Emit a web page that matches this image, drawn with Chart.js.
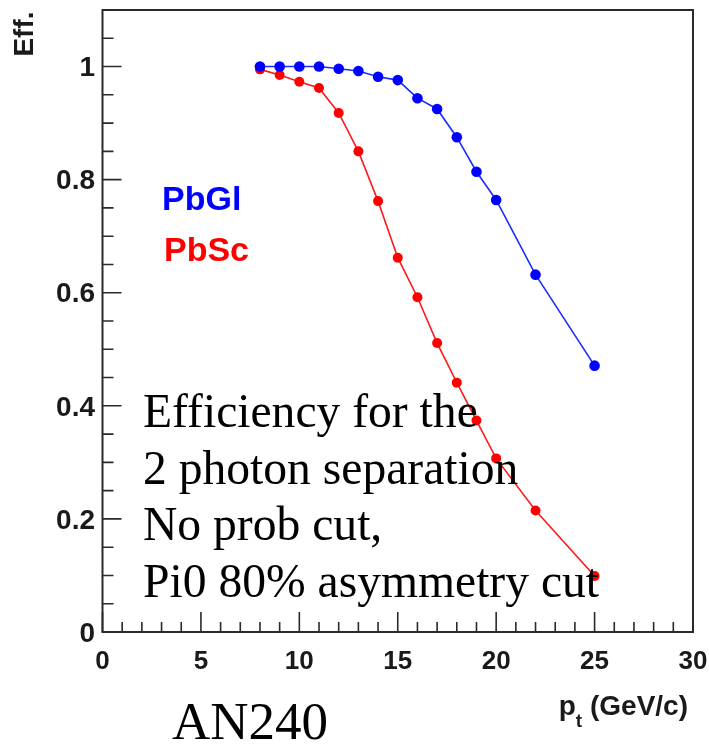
<!DOCTYPE html>
<html>
<head>
<meta charset="utf-8">
<script src="https://cdn.jsdelivr.net/npm/chart.js@4/dist/chart.umd.min.js"></script>
<style>
  html, body { margin: 0; padding: 0; background: #ffffff; }
  #wrap { width: 709px; height: 744px; }
</style>
</head>
<body>
<div id="wrap"><canvas id="c" width="709" height="744"></canvas></div>
<script>
// transverse momentum bins (GeV/c)
const pt = [8, 9, 10, 11, 12, 13, 14, 15, 16, 17, 18, 19, 20, 22, 25];
// two-photon separation efficiency, lead-glass calorimeter
const effPbGl = [1.0, 1.0, 1.0, 1.0, 0.996, 0.992, 0.982, 0.976, 0.944, 0.925, 0.875, 0.814, 0.764, 0.632, 0.471];
// two-photon separation efficiency, lead-scintillator calorimeter
const effPbSc = [0.995, 0.985, 0.973, 0.962, 0.918, 0.850, 0.762, 0.662, 0.592, 0.511, 0.441, 0.374, 0.307, 0.215, 0.099];

const xTickLabels = ['0', '5', '10', '15', '20', '25', '30'];
const yTickLabels = ['0', '0.2', '0.4', '0.6', '0.8', '1'];
const noteLines = ['Efficiency for the', '2 photon separation', 'No prob cut,', 'Pi0 80% asymmetry cut'];

const toPoints = (xs, ys) => xs.map((x, i) => ({ x: x, y: ys[i] }));

// frame, inward ticks, tick labels and annotations
const framePlugin = {
  id: 'frame',
  afterDraw(chart) {
    const ctx = chart.ctx;
    const a = chart.chartArea;
    const xs = chart.scales.x, ys = chart.scales.y;
    ctx.save();
    ctx.strokeStyle = '#2a2a2a';
    ctx.lineWidth = 2;
    ctx.strokeRect(a.left, a.top, a.right - a.left, a.bottom - a.top);

    ctx.lineWidth = 1.6;
    ctx.beginPath();
    for (let v = 0; v <= 30; v += 1) {
      const px = xs.getPixelForValue(v);
      const len = (v % 5 === 0) ? 20 : 10;
      ctx.moveTo(px, a.bottom);
      ctx.lineTo(px, a.bottom - len);
    }
    for (let k = 0; k <= 22; k++) {
      const v = k * 0.05;
      const py = ys.getPixelForValue(v);
      const len = (k % 4 === 0) ? 19 : 11;
      ctx.moveTo(a.left, py);
      ctx.lineTo(a.left + len, py);
    }
    ctx.stroke();

    // tick labels
    ctx.fillStyle = '#1a1a1a';
    ctx.font = 'bold 26px "Liberation Sans", Arial, sans-serif';
    ctx.textAlign = 'center';
    ctx.textBaseline = 'alphabetic';
    xTickLabels.forEach(t => {
      ctx.fillText(t, xs.getPixelForValue(parseFloat(t)), 669);
    });
    ctx.font = 'bold 28px "Liberation Sans", Arial, sans-serif';
    ctx.textAlign = 'right';
    ctx.textBaseline = 'middle';
    yTickLabels.forEach(t => {
      ctx.fillText(t, 95, ys.getPixelForValue(parseFloat(t)) + 2);
    });

    // axis titles
    ctx.save();
    ctx.translate(25, 34);
    ctx.rotate(-Math.PI / 2);
    ctx.textAlign = 'center';
    ctx.textBaseline = 'middle';
    ctx.font = 'bold 28px "Liberation Sans", Arial, sans-serif';
    ctx.fillText('Eff.', 0, 0);
    ctx.restore();

    ctx.textAlign = 'left';
    ctx.textBaseline = 'alphabetic';
    const big = 'bold 28px "Liberation Sans", Arial, sans-serif';
    const small = 'bold 19px "Liberation Sans", Arial, sans-serif';
    const rest = ' (GeV/c)';
    ctx.font = big;
    const pW = ctx.measureText('p').width;
    const rW = ctx.measureText(rest).width;
    ctx.font = small;
    const tW = ctx.measureText('t').width;
    const x0 = 688 - (pW + tW + rW);
    ctx.font = big;
    ctx.fillText('p', x0, 715);
    ctx.font = small;
    ctx.fillText('t', x0 + pW, 727);
    ctx.font = big;
    ctx.fillText(rest, x0 + pW + tW, 715);

    // detector names
    ctx.font = 'bold 34px "Liberation Sans", Arial, sans-serif';
    ctx.fillStyle = '#0000ff';
    ctx.fillText('PbGl', 162, 210);
    ctx.fillStyle = '#ff0000';
    ctx.fillText('PbSc', 164, 261);

    // note text
    ctx.fillStyle = '#000000';
    ctx.font = '47.6px "Liberation Serif", "Times New Roman", serif';
    noteLines.forEach((line, i) => {
      ctx.fillText(line, 143, 427 + i * 56.7);
    });
    ctx.font = '53px "Liberation Serif", "Times New Roman", serif';
    ctx.fillText('AN240', 172, 739);
    ctx.restore();
  }
};

new Chart(document.getElementById('c'), {
  type: 'scatter',
  data: {
    datasets: [
      {
        label: 'PbGl',
        data: toPoints(pt, effPbGl),
        showLine: true,
        borderColor: '#1a2cff',
        backgroundColor: '#0000ff',
        pointBackgroundColor: '#0000ff',
        pointBorderColor: '#0000ff',
        borderWidth: 1.6,
        pointRadius: 5.3,
        pointBorderWidth: 0,
        order: 0
      },
      {
        label: 'PbSc',
        data: toPoints(pt, effPbSc),
        showLine: true,
        borderColor: '#ff1a1a',
        backgroundColor: '#ff0000',
        pointBackgroundColor: '#ff0000',
        pointBorderColor: '#ff0000',
        borderWidth: 1.6,
        pointRadius: 5,
        pointBorderWidth: 0,
        order: 1
      }
    ]
  },
  options: {
    responsive: false,
    animation: false,
    devicePixelRatio: 1,
    layout: { padding: { left: 102.5, top: 10, right: 16, bottom: 112 } },
    plugins: { legend: { display: false }, tooltip: { enabled: false }, title: { display: false } },
    scales: {
      x: { type: 'linear', min: 0, max: 30, display: false },
      y: { type: 'linear', min: 0, max: 1.1, display: false }
    }
  },
  plugins: [framePlugin]
});
</script>
</body>
</html>
